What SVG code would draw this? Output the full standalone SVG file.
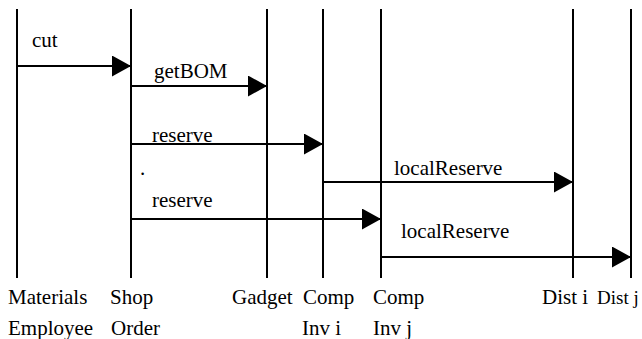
<svg xmlns="http://www.w3.org/2000/svg" width="642" height="339" viewBox="0 0 642 339" font-family="'Liberation Serif', 'Times New Roman', serif">
<defs>
<style>
.life{stroke:#000;stroke-width:2;fill:none}
.msg{stroke:#000;stroke-width:2;fill:none;marker-end:url(#ah)}
text{font-family:'Liberation Serif','Times New Roman',serif;font-size:21px;fill:#000}
</style>
<marker id="ah" markerUnits="userSpaceOnUse" markerWidth="20" markerHeight="22" refX="19" refY="10.5" orient="auto">
<path d="M0,0 L19,10.5 L0,21 z" fill="#000"/>
</marker>
</defs>
<rect width="642" height="339" fill="#fff"/>
<g id="materials-employee">
<line class="life" x1="17" y1="9" x2="17" y2="278"/>
<text x="8" y="304">Materials</text>
<text x="8" y="335">Employee</text>
</g>
<g id="shop-order">
<line class="life" x1="131" y1="9" x2="131" y2="278"/>
<text x="110" y="304">Shop</text>
<text x="111" y="335">Order</text>
</g>
<g id="gadget">
<line class="life" x1="267" y1="9" x2="267" y2="278"/>
<text x="232" y="304">Gadget</text>
</g>
<g id="comp-inv-i">
<line class="life" x1="323" y1="9" x2="323" y2="278"/>
<text x="303" y="304">Comp</text>
<text x="302" y="335">Inv i</text>
</g>
<g id="comp-inv-j">
<line class="life" x1="381" y1="9" x2="381" y2="278"/>
<text x="373" y="304">Comp</text>
<text x="373" y="335">Inv j</text>
</g>
<g id="dist-i">
<line class="life" x1="573" y1="9" x2="573" y2="278"/>
<text x="542" y="304">Dist i</text>
</g>
<g id="dist-j">
<line class="life" x1="631" y1="9" x2="631" y2="278"/>
<text x="597" y="304" style="font-size:19px">Dist j</text>
</g>
<g id="connectors">
<line class="msg" x1="17" y1="66" x2="131" y2="66"/>
<text x="32" y="47">cut</text>
<line class="msg" x1="131" y1="86" x2="267" y2="86"/>
<text x="154" y="78">getBOM</text>
<line class="msg" x1="131" y1="144" x2="323" y2="144"/>
<text x="152" y="142">reserve</text>
<text x="140" y="175">.</text>
<line class="msg" x1="323" y1="182" x2="573" y2="182"/>
<text x="394" y="175">localReserve</text>
<line class="msg" x1="131" y1="219" x2="381" y2="219"/>
<text x="152" y="207">reserve</text>
<line class="msg" x1="381" y1="257" x2="631" y2="257"/>
<text x="401" y="238">localReserve</text>
</g>
</svg>
